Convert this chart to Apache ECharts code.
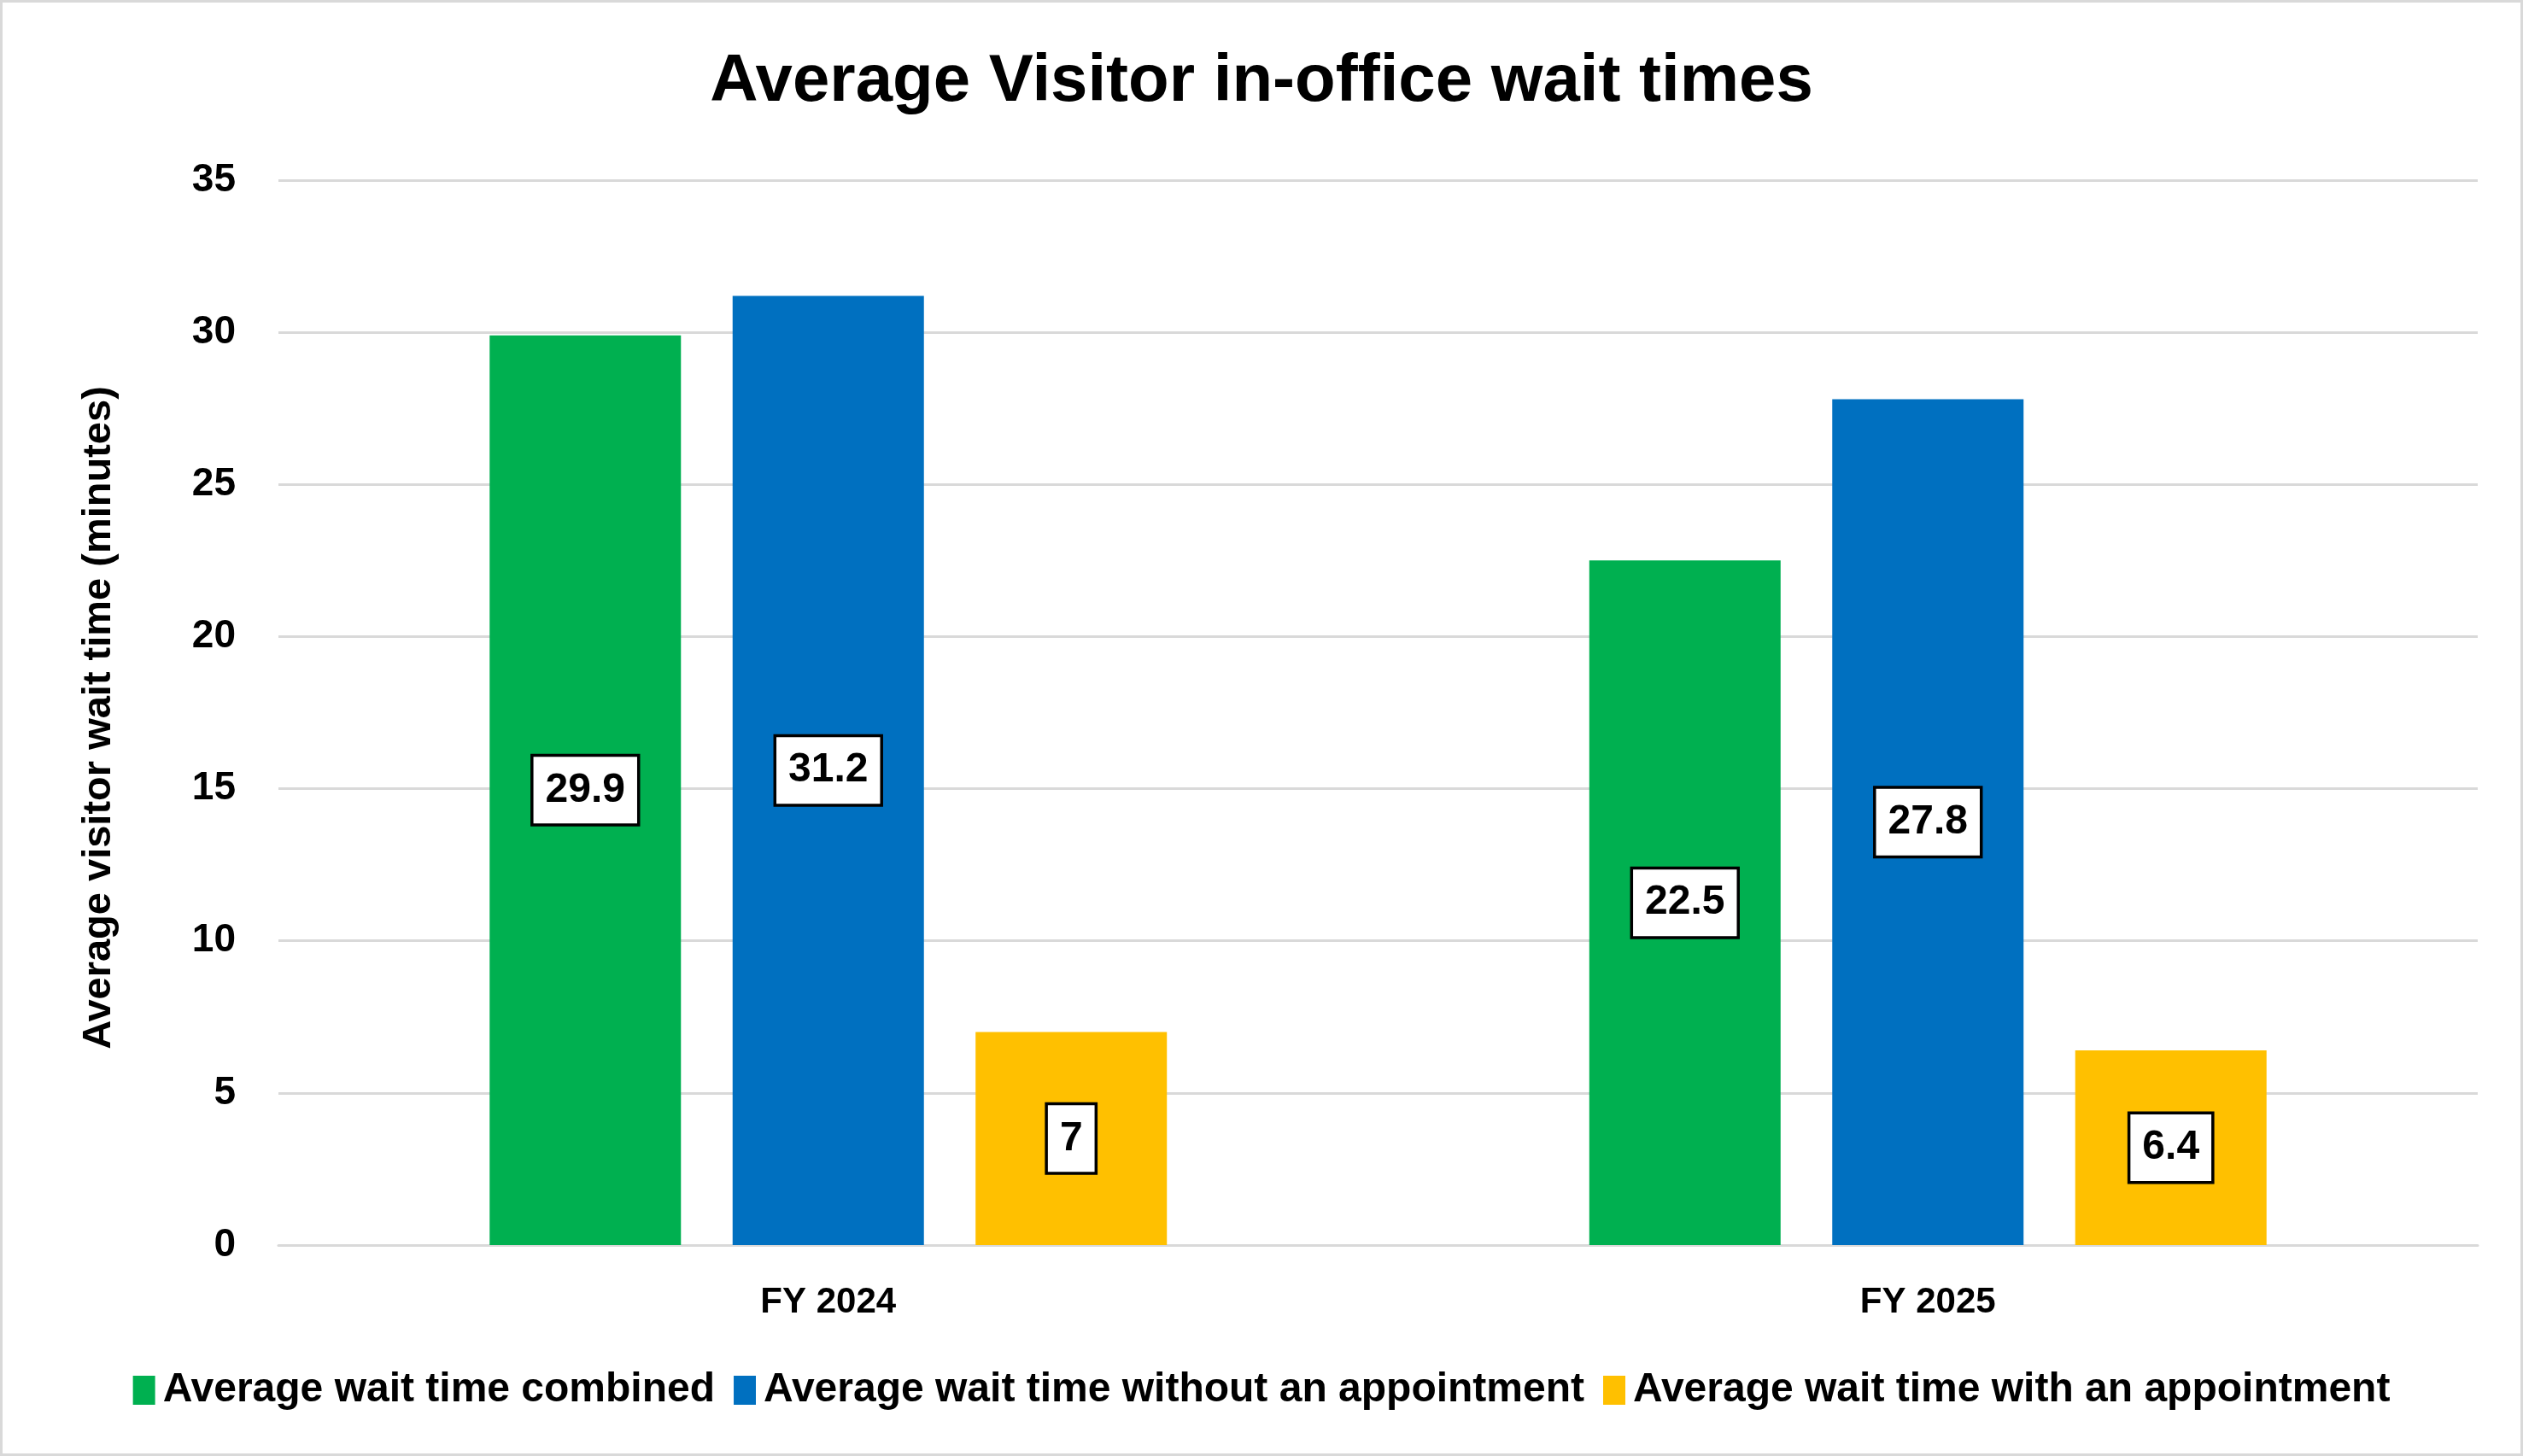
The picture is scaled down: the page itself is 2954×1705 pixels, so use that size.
<!DOCTYPE html>
<html>
<head>
<meta charset="utf-8">
<script src="https://cdn.jsdelivr.net/npm/echarts@6/dist/echarts.min.js"></script>
<style>html,body{margin:0;padding:0;background:#fff}#chart{width:2954px;height:1705px}</style>
</head>
<body>
<div id="chart"></div>
<script>
const categories = ['FY 2024', 'FY 2025'];
const seriesNames = ['Average wait time combined', 'Average wait time without an appointment', 'Average wait time with an appointment'];
const combined = [29.9, 22.5];
const withoutAppt = [31.2, 27.8];
const withAppt = [7, 6.4];
const colors = ['#00B050', '#0070C0', '#FFC000'];
const yTicks = { min: 0, max: 35, interval: 5 };

const FONT = '"Liberation Sans", Arial, sans-serif';
const chart = echarts.init(document.getElementById('chart'));
const label = {
  show: true, position: 'inside', color: '#000', fontFamily: FONT, fontWeight: 'bold', fontSize: 48,
  backgroundColor: '#fff', borderColor: '#000', borderWidth: 3.5, padding: [16, 14, 14, 14]
};
const values = [combined, withoutAppt, withAppt];
chart.setOption({
  animation: false,
  backgroundColor: '#fff',
  color: colors,
  title: {
    text: 'Average Visitor in-office wait times', left: 'center', top: 52,
    textStyle: { fontFamily: FONT, fontWeight: 'bold', fontSize: 78, color: '#000' }
  },
  graphic: [{ type: 'rect', shape: { x: 1.5, y: 1.5, width: 2951, height: 1702 }, style: { fill: 'none', stroke: '#d9d9d9', lineWidth: 3 }, silent: true }],
  legend: {
    bottom: 48, left: 'center', itemWidth: 26, itemHeight: 34, itemGap: 22,
    icon: 'rect',
    textStyle: { fontFamily: FONT, fontWeight: 'bold', fontSize: 48, color: '#000', padding: [0, 0, 0, 4] },
    data: seriesNames
  },
  grid: { left: 326, right: 53, top: 211, bottom: 247 },
  xAxis: {
    type: 'category', data: categories,
    axisLine: { lineStyle: { color: '#d9d9d9', width: 3 } },
    axisTick: { show: false },
    axisLabel: { color: '#000', fontFamily: FONT, fontWeight: 'bold', fontSize: 42, margin: 46 }
  },
  yAxis: {
    type: 'value', min: yTicks.min, max: yTicks.max, interval: yTicks.interval,
    name: 'Average visitor wait time (minutes)', nameLocation: 'middle', nameGap: 186,
    nameTextStyle: { color: '#000', fontFamily: FONT, fontWeight: 'bold', fontSize: 47, padding: [0, 12, 0, 0] },
    axisLine: { show: false }, axisTick: { show: false },
    axisLabel: { color: '#000', fontFamily: FONT, fontWeight: 'bold', fontSize: 46, margin: 50 },
    splitLine: { lineStyle: { color: '#d9d9d9', width: 3 } }
  },
  series: seriesNames.map((n, i) => ({
    name: n, type: 'bar', data: values[i], barWidth: 224, barGap: '27%',
    itemStyle: { color: colors[i] }, label: label
  }))
});
</script>
</body>
</html>
